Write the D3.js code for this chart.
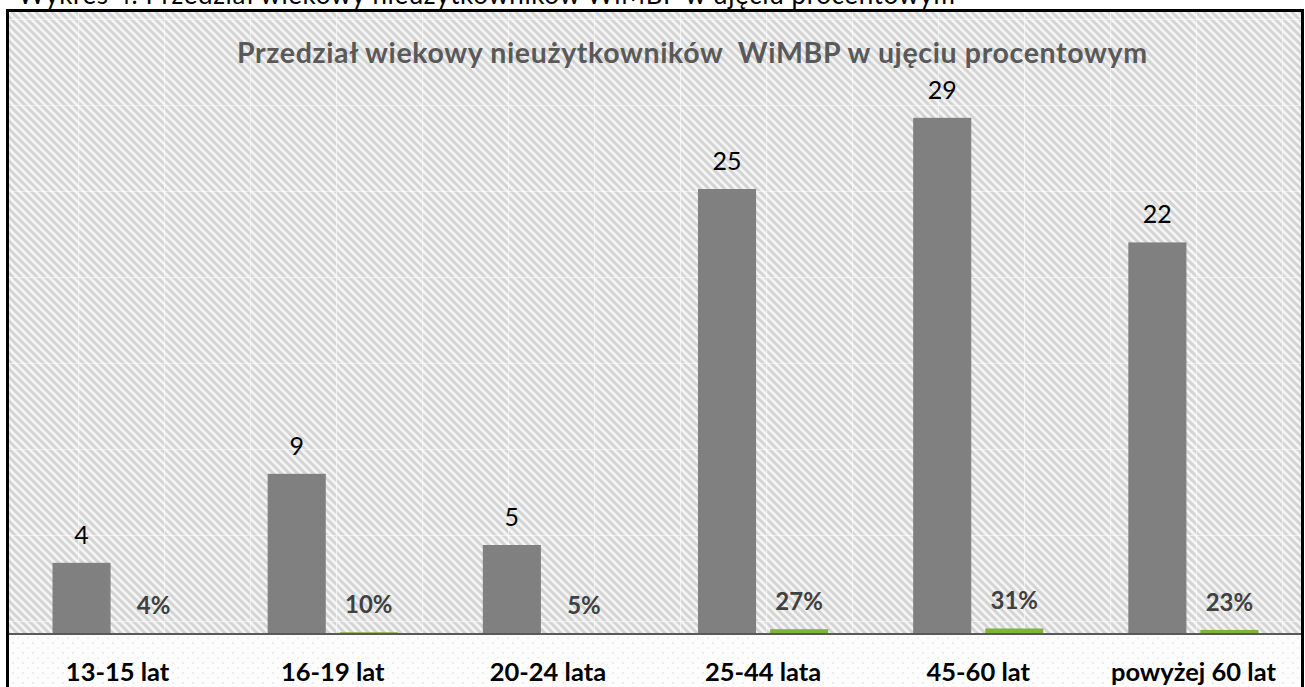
<!DOCTYPE html>
<html>
<head>
<meta charset="utf-8">
<script src="https://cdn.jsdelivr.net/npm/d3@7"></script>
<style>
  html, body { margin: 0; padding: 0; background: #ffffff; }
  svg { display: block; }
  text { font-family: Lato, "Open Sans", sans-serif; }
</style>
</head>
<body>
<svg id="chart" width="1305" height="687"></svg>
<script>
const captionText = "Wykres 4. Przedział wiekowy nieużytkowników WiMBP w ujęciu procentowym";
const titleText = "Przedział wiekowy nieużytkowników  WiMBP w ujęciu procentowym";
const categories = ["13-15 lat", "16-19 lat", "20-24 lata", "25-44 lata", "45-60 lat", "powyżej 60 lat"];
const counts = [4, 9, 5, 25, 29, 22];
const shares = [0.04, 0.10, 0.05, 0.27, 0.31, 0.23];
const seriesKeys = ["count", "share"];

const W = 1305, H = 687;
const frame = { left: 9, right: 1301, top: 12 };
const axisY = 634;

const svg = d3.select("#chart");
const defs = svg.append("defs");

// diagonal hatch pattern
const hatch = defs.append("pattern")
  .attr("id", "hatch").attr("patternUnits", "userSpaceOnUse")
  .attr("width", 8).attr("height", 8);
hatch.append("rect").attr("width", 8).attr("height", 8).attr("fill", "#f5f5f5");
hatch.append("path").attr("d", "M-2,-2 L10,10 M-10,-2 L2,10 M6,-2 L18,10")
  .attr("stroke", "#d4d4d4").attr("stroke-width", 3);

// tile seams
const seam = defs.append("pattern")
  .attr("id", "seam").attr("patternUnits", "userSpaceOnUse")
  .attr("x", -8).attr("y", 19).attr("width", 86).attr("height", 86);
seam.append("path").attr("d", "M0.5,0 L0.5,86 M0,0.5 L86,0.5")
  .attr("stroke", "#ffffff").attr("stroke-opacity", 0.55).attr("stroke-width", 1.2);

// dotted pattern below axis
const dots = defs.append("pattern")
  .attr("id", "dots").attr("patternUnits", "userSpaceOnUse")
  .attr("width", 10).attr("height", 10);
dots.append("rect").attr("width", 10).attr("height", 10).attr("fill", "#fdfdfd");
dots.append("circle").attr("cx", 3).attr("cy", 3).attr("r", 0.9).attr("fill", "#e6e6e6");
dots.append("circle").attr("cx", 8).attr("cy", 8).attr("r", 0.9).attr("fill", "#ececec");

// caption (cut off at top, as in the reference)
svg.append("text")
  .attr("x", 18).attr("y", 4)
  .attr("font-size", 26).attr("fill", "#000")
  .attr("textLength", 937).attr("lengthAdjust", "spacing")
  .text(captionText);

// backgrounds
svg.append("rect").attr("x", frame.left).attr("y", frame.top)
  .attr("width", frame.right - frame.left).attr("height", axisY - frame.top)
  .attr("fill", "url(#hatch)");
svg.append("rect").attr("x", frame.left).attr("y", frame.top)
  .attr("width", frame.right - frame.left).attr("height", axisY - frame.top)
  .attr("fill", "url(#seam)");
svg.append("rect").attr("x", frame.left).attr("y", axisY)
  .attr("width", frame.right - frame.left).attr("height", H - axisY)
  .attr("fill", "url(#dots)");

// scales
const x0 = d3.scaleBand().domain(categories)
  .range([10, 1301]).paddingInner(0.395).paddingOuter(0.1975);
const x1 = d3.scaleBand().domain(seriesKeys)
  .range([0, x0.bandwidth()]).paddingInner(0.194).paddingOuter(0);
const y = d3.scaleLinear().domain([0, 30]).range([axisY, axisY - 30 * 17.8]);

const rows = categories.map((c, i) => ({ cat: c, count: counts[i], share: shares[i] }));
const colors = { count: "#808080", share: "#7db53b" };

const g = svg.append("g");
const groups = g.selectAll("g.cat").data(rows).join("g")
  .attr("class", "cat")
  .attr("transform", d => `translate(${x0(d.cat)},0)`);

groups.selectAll("rect").data(d => seriesKeys.map(k => ({ key: k, value: d[k] })))
  .join("rect")
  .attr("x", d => x1(d.key))
  .attr("width", x1.bandwidth())
  .attr("y", d => y(d.value))
  .attr("height", d => axisY - y(d.value))
  .attr("fill", d => colors[d.key]);

// labels
groups.append("text")
  .attr("x", d => x1("count") + x1.bandwidth() / 2)
  .attr("y", d => y(d.count) - 19)
  .attr("text-anchor", "middle")
  .attr("font-size", 25).attr("fill", "#000")
  .text(d => d3.format("d")(d.count));

groups.append("text")
  .attr("x", d => x1("share") + x1.bandwidth() / 2)
  .attr("y", d => y(d.share) - 19)
  .attr("text-anchor", "middle")
  .attr("font-size", 24).attr("font-weight", "bold").attr("fill", "#404040")
  .text(d => d3.format(".0%")(d.share));

// axis
const xAxis = d3.axisBottom(x0).tickSize(0).tickPadding(0);
const ax = svg.append("g").attr("transform", `translate(0,${axisY})`).call(xAxis);
ax.select(".domain").attr("d", `M${frame.left},0H${frame.right}`)
  .attr("stroke", "#595959").attr("stroke-width", 2);
ax.selectAll(".tick text")
  .attr("y", 47).attr("dy", null)
  .attr("font-size", 25.5).attr("font-weight", "bold").attr("fill", "#000")
  .attr("font-family", "Lato, 'Open Sans', sans-serif");

// title
svg.append("text")
  .attr("x", 237).attr("y", 63)
  .attr("font-size", 28.5).attr("font-weight", "bold").attr("fill", "#595959")
  .attr("textLength", 910).attr("lengthAdjust", "spacing")
  .style("white-space", "pre")
  .text(titleText);

// frame border
svg.append("path")
  .attr("d", `M${frame.left - 1.5},${H + 5}V${frame.top - 1.5}H${frame.right + 1.5}V${H + 5}`)
  .attr("fill", "none").attr("stroke", "#000").attr("stroke-width", 3);
</script>
</body>
</html>
